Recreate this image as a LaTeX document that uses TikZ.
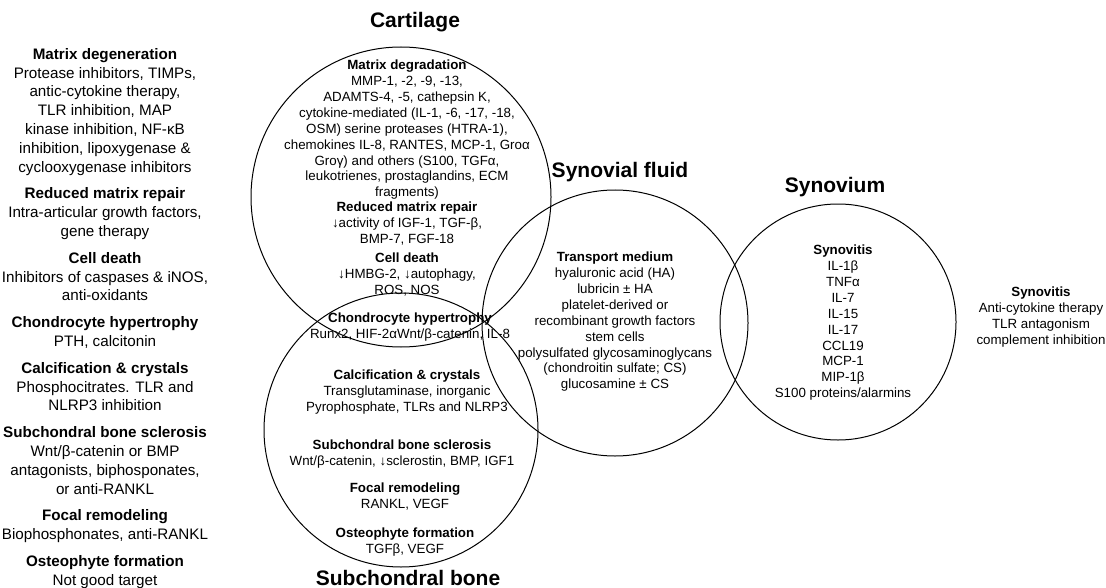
\documentclass[tikz,border=0pt]{standalone}
\usepackage{fontspec}
\setmainfont{Liberation Sans}
\begin{document}
\begin{tikzpicture}[x=0.75pt,y=-0.75pt,
  region/.style={draw, circle, line width=0.75pt, inner sep=0pt, outer sep=0pt},
  lefttext/.style={align=center, inner sep=0pt, anchor=north, font=\fontsize{11.4}{14.1}\selectfont},
  ctext/.style={align=center, inner sep=0pt, anchor=north, font=\fontsize{10}{11.9}\selectfont},
  title/.style={inner sep=0pt, font=\fontsize{15.75}{18}\selectfont\bfseries}]
\useasboundingbox (0,0) rectangle (1106,588);
% circles
\node[region, minimum size=225pt] (cart) at (401,197) {};
\node[region, minimum size=205.5pt] (bone) at (401,430) {};
\node[region, minimum size=199.5pt] (fluid) at (615,323) {};
\node[region, minimum size=177pt] (synov) at (838,322) {};
% titles
\node[title] (tcart) at (415,22) {Cartilage};
\node[title] (tfluid) at (620,172) {Synovial fluid};
\node[title] (tsynov) at (835,187) {Synovium};
\node[title] (tbone) at (408,578) {Subchondral bone};
% left column
\node[lefttext] (l1) at (105,48) {\textbf{Matrix degeneration}\\Protease inhibitors, TIMPs,\\antic-cytokine therapy,\\TLR inhibition, MAP\\kinase inhibition, NF-κB\\inhibition, lipoxygenase \&\\cyclooxygenase inhibitors};
\node[lefttext] (l2) at (105,187.6) {\textbf{Reduced matrix repair}\\Intra-articular growth factors,\\gene therapy};
\node[lefttext] (l3) at (105,252) {\textbf{Cell death}\\Inhibitors of caspases \& iNOS,\\anti-oxidants};
\node[lefttext] (l4) at (105,316.4) {\textbf{Chondrocyte hypertrophy}\\PTH, calcitonin};
\node[lefttext] (l5) at (105,362) {\textbf{Calcification \& crystals}\\Phosphocitrates. TLR and\\NLRP3 inhibition};
\node[lefttext] (l6) at (105,426.4) {\textbf{Subchondral bone sclerosis}\\Wnt/β-catenin or BMP\\antagonists, biphosponates,\\or anti-RANKL};
\node[lefttext] (l7) at (105,509.6) {\textbf{Focal remodeling}\\Biophosphonates, anti-RANKL};
\node[lefttext] (l8) at (105,555.2) {\textbf{Osteophyte formation}\\Not good target};
% cartilage
\node[ctext] (c1) at (407,60) {\textbf{Matrix degradation}\\MMP-1, -2, -9, -13,\\ADAMTS-4, -5, cathepsin K,\\cytokine-mediated (IL-1, -6, -17, -18,\\OSM) serine proteases (HTRA-1),\\chemokines IL-8, RANTES, MCP-1, Groα\\Groγ) and others (S100, TGFα,\\leukotrienes, prostaglandins, ECM\\fragments)};
\node[ctext] (c2) at (407,202) {\textbf{Reduced matrix repair}\\↓activity of IGF-1, TGF-β,\\BMP-7, FGF-18};
\node[ctext] (c3) at (407,253) {\textbf{Cell death}\\↓HMBG-2, ↓autophagy,\\ROS, NOS};
\node[ctext] (c4) at (410,313) {\textbf{Chondrocyte hypertrophy}\\Runx2, HIF-2αWnt/β-catenin, IL-8};
% bone
\node[ctext] (b1) at (407,370) {\textbf{Calcification \& crystals}\\Transglutaminase, inorganic\\Pyrophosphate, TLRs and NLRP3};
\node[ctext] (b2) at (402,440) {\textbf{Subchondral bone sclerosis}\\Wnt/β-catenin, ↓sclerostin, BMP, IGF1};
\node[ctext] (b3) at (405,483) {\textbf{Focal remodeling}\\RANKL, VEGF};
\node[ctext] (b4) at (405,528) {\textbf{Osteophyte formation}\\TGFβ, VEGF};
% synovial fluid
\node[ctext] (f1) at (615,252) {\textbf{Transport medium}\\hyaluronic acid (HA)\\lubricin ± HA\\platelet-derived or\\recombinant growth factors\\stem cells\\polysulfated glycosaminoglycans\\(chondroitin sulfate; CS)\\glucosamine ± CS};
% synovium
\node[ctext] (s1) at (843,245) {\textbf{Synovitis}\\IL-1β\\TNFα\\IL-7\\IL-15\\IL-17\\CCL19\\MCP-1\\MIP-1β\\S100 proteins/alarmins};
% right
\node[ctext] (r1) at (1041,287) {\textbf{Synovitis}\\Anti-cytokine therapy\\TLR antagonism\\complement inhibition};
\end{tikzpicture}
\end{document}
